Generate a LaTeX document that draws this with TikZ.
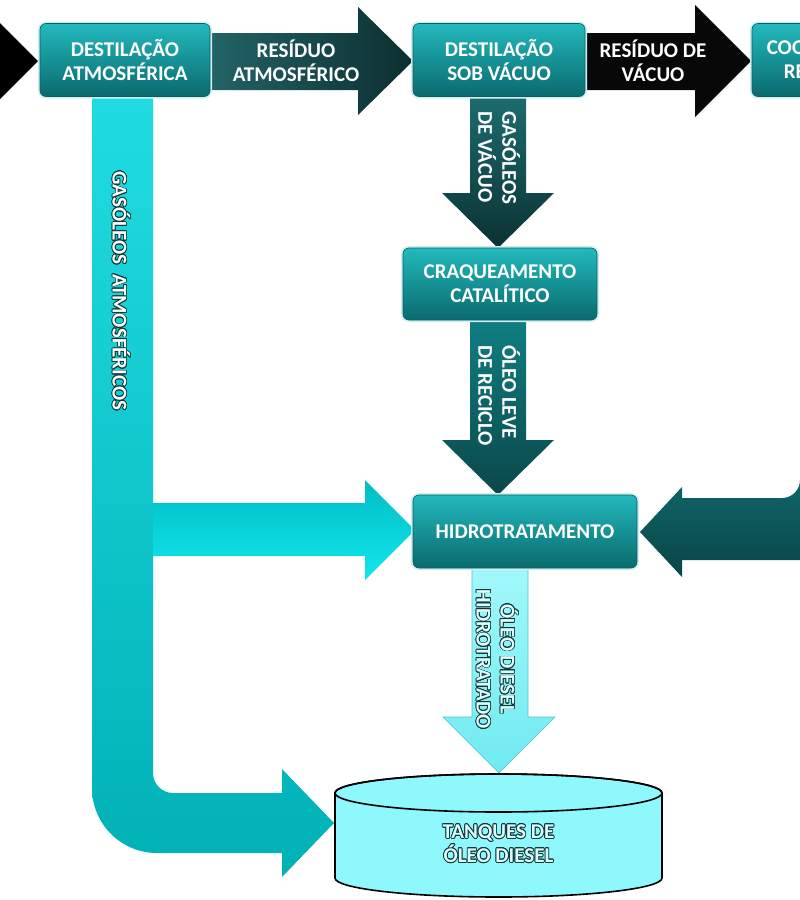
\documentclass[tikz,border=0pt]{standalone}
\usepackage{fontspec}
\setmainfont{Carlito}
\usepackage[copies]{contour}
\contourlength{0.8pt}
\contournumber{16}
\usetikzlibrary{shapes.geometric}
\definecolor{boxtop}{HTML}{22B9BD}
\definecolor{boxmid}{HTML}{13989C}
\definecolor{boxbot}{HTML}{0A6A6D}
\definecolor{boxedge}{HTML}{0B5F62}
\definecolor{glowc}{HTML}{CDEFF1}
\definecolor{darkA}{HTML}{236568}
\definecolor{darkB}{HTML}{0C2E30}
\definecolor{vacA}{HTML}{1D6E71}
\definecolor{vacB}{HTML}{0B3133}
\definecolor{lcoA}{HTML}{108084}
\definecolor{lcoB}{HTML}{0B4749}
\definecolor{rgtA}{HTML}{0F6669}
\definecolor{rgtB}{HTML}{0A4446}
\definecolor{cyA}{HTML}{20DCE2}
\definecolor{cyB}{HTML}{00B1B6}
\definecolor{brA}{HTML}{00BEC4}
\definecolor{brB}{HTML}{12E6ED}
\definecolor{ltA}{HTML}{A2F8FB}
\definecolor{ltB}{HTML}{6FEAF0}
\definecolor{ltEdge}{HTML}{4FC9CE}
\definecolor{tankfill}{HTML}{8EF8FC}
\definecolor{outl}{HTML}{0B3A3C}
\definecolor{lighttxt}{HTML}{E2FDFF}
\newcommand{\lblfont}{\fontsize{21}{24}\selectfont\bfseries}
\newcommand{\otxt}[1]{\contour{outl}{\textcolor{lighttxt}{#1}}}
\tikzset{
  procbox/.style={rounded corners=6pt, top color=boxtop, middle color=boxmid, bottom color=boxbot,
    draw=boxedge, line width=0.6pt, preaction={draw=glowc, line width=4pt},
    text=white, font=\lblfont, align=center, inner sep=0pt, minimum height=73pt},
  lbl/.style={text=white, font=\lblfont, align=center, inner sep=0pt},
  vlbl/.style={lbl, rotate=-90},
  tankline/.style={draw=black, line width=1.6pt, fill=tankfill}
}
\begin{document}
\begin{tikzpicture}[x=1pt,y=-1pt]
\useasboundingbox (0,0) rectangle (800,900);
\fill[white] (0,0) rectangle (800,900);
\clip (0,0) rectangle (800,900);

% incoming black arrow head (left edge)
\fill[black] (-18,5) -- (38,61) -- (-18,117) -- cycle;

% residuo atmosferico
\shade[left color=darkA, right color=darkB] (205,33) -- (358,33) -- (358,7) -- (413,61) -- (358,115) -- (358,90) -- (205,90) -- cycle;
% residuo de vacuo
\fill[black!97] (580,33) -- (695,33) -- (695,5) -- (751,61) -- (695,117) -- (695,90) -- (580,90) -- cycle;

% gasoleos de vacuo
\shade[top color=vacA, bottom color=vacB] (470,92) -- (526,92) -- (526,193) -- (554,193) -- (498,248) -- (442,193) -- (470,193) -- cycle;
% oleo leve de reciclo
\shade[top color=lcoA, bottom color=lcoB] (470,315) -- (526,315) -- (526,440) -- (554,440) -- (498,495) -- (442,440) -- (470,440) -- cycle;
% oleo diesel hidrotratado
\shade[top color=ltA, bottom color=ltB, draw=ltEdge, line width=0.6pt] (472,566) -- (528,566) -- (528,717) -- (555,717) -- (499,773) -- (443,717) -- (472,717) -- cycle;

% right incoming arrow
\shade[top color=rgtA, bottom color=rgtB] (640,532) -- (682,487) -- (682,498) -- (782,498) .. controls (792,498) and (800,490) .. (800,480) -- (830,480) -- (830,560) -- (682,560) -- (682,577) -- cycle;

% big cyan L arrow
\shade[top color=cyA, bottom color=cyB] (92,92) -- (92,788) .. controls (92,824) and (121,853) .. (157,853) -- (282,853) -- (282,877) -- (334,823) -- (282,769) -- (282,793) -- (173,793) .. controls (162,793) and (153,784) .. (153,773) -- (153,92) -- cycle;
% branch to hidrotratamento
\shade[top color=brA, bottom color=brB] (153,503) -- (365,503) -- (365,480) -- (415,530) -- (365,580) -- (365,556) -- (153,556) -- cycle;

% tank
\path[tankline] (335,793) -- (335,878) .. controls (335,888.5) and (408.2,897) .. (498.5,897) .. controls (588.8,897) and (662,888.5) .. (662,878) -- (662,793) .. controls (662,782.5) and (588.8,774) .. (498.5,774) .. controls (408.2,774) and (335,782.5) .. (335,793) -- cycle;
\draw[line width=1.6pt] (498.5,793) ellipse (163.5 and 19);
\node[lbl, font=\lblfont] (tank) at (498.5,844) {\otxt{TANQUES DE}\\\otxt{ÓLEO DIESEL}};

% process boxes
\node[procbox, minimum width=170pt] (dat) at (125,60) {DESTILAÇÃO\\ATMOSFÉRICA};
\node[procbox, minimum width=172pt] (dsv) at (499,60) {DESTILAÇÃO\\SOB VÁCUO};
\node[procbox, minimum width=172pt] (coq) at (838,60) {COQUEAMENTO\\RETARDADO};
\node[procbox, minimum width=194pt, minimum height=72pt] (fcc) at (500,284) {CRAQUEAMENTO\\CATALÍTICO};
\node[procbox, minimum width=224pt] (hdt) at (525,531.5) {HIDROTRATAMENTO};

% arrow labels
\node[lbl] (l1) at (296,61) {RESÍDUO\\ATMOSFÉRICO};
\node[lbl] (l2) at (653,61) {RESÍDUO DE\\VÁCUO};
\node[vlbl, anchor=west, align=left] (l3) at (499,111) {GASÓLEOS\\DE VÁCUO};
\node[vlbl, anchor=west, align=left] (l4) at (499,345) {ÓLEO LEVE\\DE RECICLO};
\node[lbl, rotate=-90] (l5) at (121,291) {\contour{outl}{GASÓLEOS\ \ ATMOSFÉRICOS}};
\node[lbl, rotate=-90] (l6) at (497,659) {\otxt{ÓLEO DIESEL}\\\otxt{HIDROTRATADO}};
\end{tikzpicture}
\end{document}
